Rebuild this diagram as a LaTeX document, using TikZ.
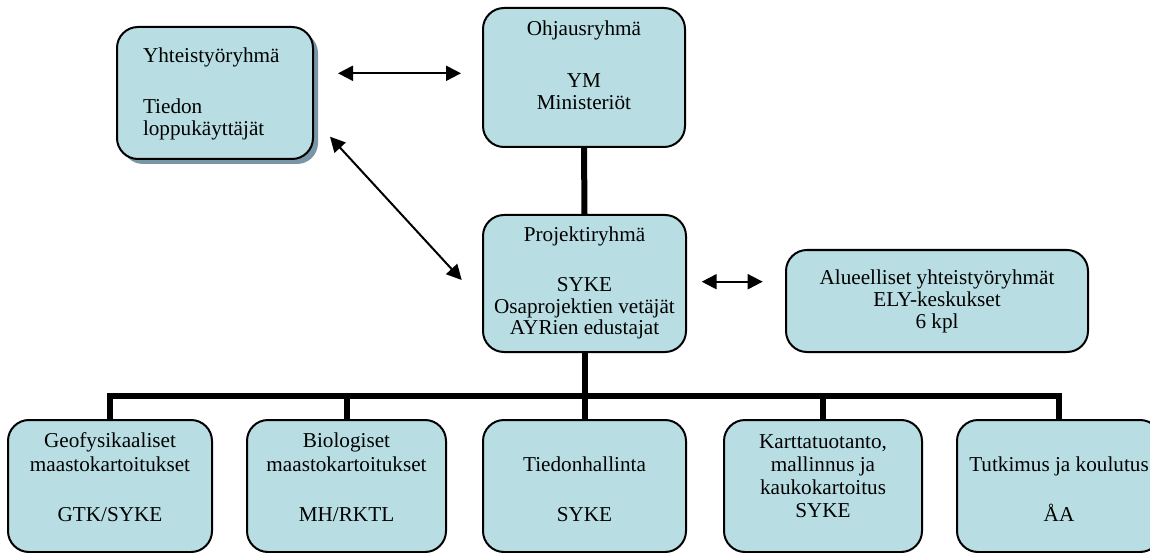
\documentclass[tikz,border=0pt]{standalone}
\usepackage{fontspec}
\setmainfont{Liberation Serif}
\usetikzlibrary{arrows.meta,shadows}
\definecolor{boxfill}{RGB}{184,222,228}
\definecolor{shadowc}{RGB}{122,150,166}
\newcommand\bl[2]{\vskip#1pt\hbox to\linewidth{\hss\smash{#2}\hss}}
\newcommand\bll[2]{\vskip#1pt\hbox to\linewidth{\hspace*{26pt}\smash{#2}\hss}}
\newcommand\bxt[3]{\parbox[t][#2pt][t]{#1pt}{\offinterlineskip#3}}
\begin{document}
\begin{tikzpicture}[x=1pt,y=-1pt,
  every node/.style={font=\fontsize{21.2}{23}\selectfont},
  box/.style={draw=black, line width=2pt, fill=boxfill, rounded corners=21pt,
    inner sep=0pt, outer sep=0pt, anchor=north west},
  shadowbox/.style={box, drop shadow={shadow xshift=5pt, shadow yshift=-5pt, fill=shadowc, opacity=1}},
  dbl/.style={line width=2pt, {Triangle[length=15pt,width=15pt]}-{Triangle[length=15pt,width=15pt]}},
  tree/.style={line width=6pt, line join=miter, line cap=butt}]
\useasboundingbox (0,0) rectangle (1150,553);

% top boxes
\node[shadowbox] (yht) at (117,27) {\bxt{196}{132}{\bll{35.7}{Yhteistyöryhmä}\bll{51.3}{Tiedon}\bll{21.5}{loppukäyttäjät}}};
\node[box] (ohj) at (483,8) {\bxt{202}{139}{\bl{28}{Ohjausryhmä}\bl{52}{YM}\bl{22}{Ministeriöt}}};
\node[box] (proj) at (483,215) {\bxt{203}{137}{\bl{26.7}{Projektiryhmä}\bl{50}{SYKE}\bl{21.3}{Osaprojektien vetäjät}\bl{21.3}{AYRien edustajat}}};
\node[box] (alu) at (786,250) {\bxt{302}{102}{\bl{34.3}{Alueelliset yhteistyöryhmät}\bl{22}{ELY-keskukset}\bl{22}{6 kpl}}};

% bottom boxes
\node[box] (b1) at (8,420) {\bxt{204}{132}{\bl{27.7}{Geofysikaaliset}\bl{23.3}{maastokartoitukset}\bl{50.7}{GTK/SYKE}}};
\node[box] (b2) at (247,420) {\bxt{199}{132}{\bl{27.7}{Biologiset}\bl{23.3}{maastokartoitukset}\bl{50.7}{MH/RKTL}}};
\node[box] (b3) at (483,420) {\bxt{203}{132}{\bl{51}{Tiedonhallinta}\bl{50.7}{SYKE}}};
\node[box] (b4) at (724,420) {\bxt{198}{132}{\bl{28}{Karttatuotanto,}\bl{23.3}{mallinnus ja}\bl{23.3}{kaukokartoitus}\bl{23.3}{SYKE}}};
\node[box] (b5) at (957,420) {\bxt{204}{132}{\bl{51.7}{Tutkimus ja koulutus}\bl{50}{ÅA}}};

% tree lines
\coordinate (bus) at (584.5,396);
\draw[tree] (ohj.south) -- (proj.north);
\draw[tree] (proj.south) -- (b3.north);
\draw[tree] (b1.north) -- (b1.north |- bus) -- (b5.north |- bus) -- (b5.north);
\draw[tree] (b2.north) -- (b2.north |- bus);
\draw[tree] (b4.north) -- (b4.north |- bus);

% arrows
\draw[dbl, shorten <=25pt, shorten >=22pt] ([yshift=19.7pt]yht.east) -- ([yshift=19.7pt]yht.east -| ohj.west);
\draw[dbl] ([xshift=17pt,yshift=22.3pt]yht.south east) -- ([xshift=-21.3pt,yshift=3.5pt]proj.west);
\draw[dbl, shorten <=15.7pt, shorten >=23.3pt] ([yshift=1.8pt]proj.east) -- ([yshift=1.8pt]proj.east -| alu.west);
\end{tikzpicture}
\end{document}
